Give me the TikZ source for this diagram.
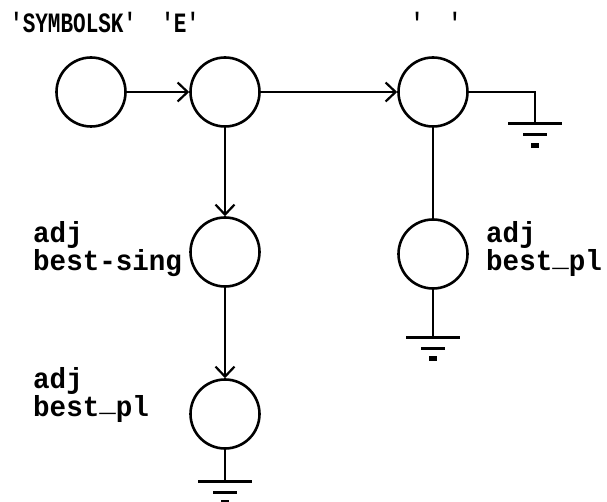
\documentclass[tikz,border=0pt]{standalone}
\usepackage{fontspec}
\newfontfamily\typefont{Liberation Mono}
\usetikzlibrary{arrows.meta}
\newcommand\lowbar{\raisebox{.3ex}{\_}}
\tikzset{
  knot/.style={circle,draw,line width=2.6pt,minimum size=69pt,inner sep=0pt},
  wire/.style={line width=2.4pt},
  feed/.style={wire,-{Straight Barb[length=10pt,width=19pt,line width=2.2pt]}},
  tag/.style={font=\typefont\bfseries\fontsize{29}{28}\selectfont,align=left,inner sep=0pt,xscale=.95},
  head/.style={font=\typefont\bfseries\fontsize{28}{28}\selectfont,inner sep=0pt,xscale=.75},
  earth/.pic={
    \draw[line width=3pt] (-27,0) -- (27,0);
    \draw[line width=3pt] (-12,11) -- (12,11);
    \fill (-4,19) rectangle (4,24);
  }
}
\begin{document}
\begin{tikzpicture}[x=1pt,y=-1pt]
  \useasboundingbox (0,0) rectangle (607,502);
  % nodes of the net
  \node[knot] (start) at (91,92) {};
  \node[knot] (e) at (225,92) {};
  \node[knot] (blank) at (433,92) {};
  \node[knot] (sing) at (225,252) {};
  \node[knot] (plr) at (433,254) {};
  \node[knot] (pll) at (225,414) {};
  % labels (base = last line)
  \node[head,anchor=base west] (hsym) at (10,33) {'SYMBOLSK'\ \ 'E'};
  \node[head,anchor=base] (hblank) at (436,33) {'\ \ '};
  \node[tag,anchor=base west] (lsing) at (33,271) {adj\\best-sing};
  \node[tag,anchor=base west] (lplr) at (486,271) {adj\\best\lowbar pl};
  \node[tag,anchor=base west] (lpll) at (33,416) {adj\\best\lowbar pl};
  % ground points
  \coordinate (gblank) at (535,124);
  \coordinate (gplr) at (433,337);
  \coordinate (gpll) at (225,481);
  % connectors
  \draw[feed] (start) -- (e);
  \draw[feed] (e) -- (blank);
  \draw[feed] (e) -- (sing);
  \draw[feed] (sing) -- (pll);
  \draw[wire] (blank) -- (plr);
  \draw[wire] (blank.east) -| (gblank);
  \draw[wire] (plr) -- (gplr);
  \draw[wire] (pll) -- (gpll);
  \foreach \g in {gblank,gplr,gpll}
    \pic at (\g) {earth};
\end{tikzpicture}
\end{document}
